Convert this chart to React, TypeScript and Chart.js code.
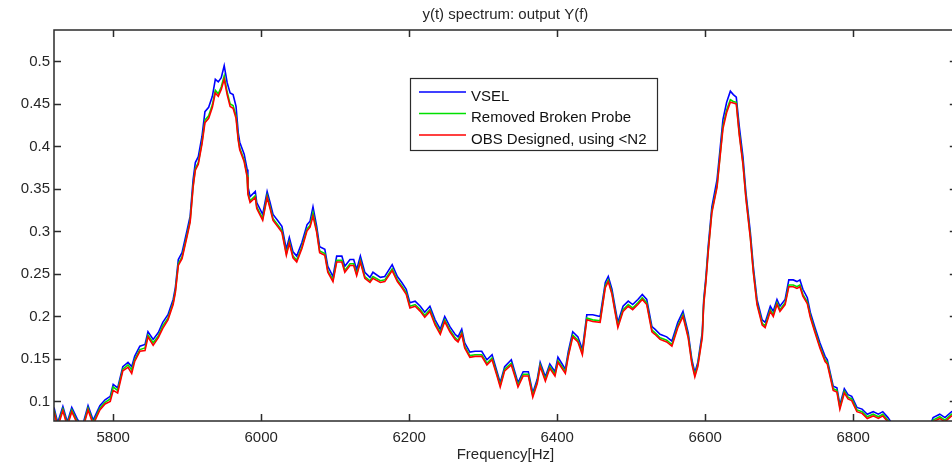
import React, { useEffect, useRef } from "react";
import { Chart, registerables } from "chart.js";

Chart.register(...registerables);

const TITLE = "y(t) spectrum: output Y(f)";
const X_TITLE = "Frequency[Hz]";
const SERIES_NAMES = ["VSEL", "Removed Broken Probe", "OBS Designed, using <N2"];
const SERIES_COLORS = ["#0000ff", "#00e000", "#ff0000"];

const X_MIN = 5720;
const X_MAX = 6940;
const Y_MIN = 0.077;
const Y_MAX = 0.537;
const X_TICKS = [5800, 6000, 6200, 6400, 6600, 6800];
const Y_TICKS = [0.1, 0.15, 0.2, 0.25, 0.3, 0.35, 0.4, 0.45, 0.5];

const FREQ = [
  5720, 5725, 5732, 5738, 5744, 5751, 5758, 5766, 5773, 5782,
  5789, 5796, 5800, 5806, 5813, 5820, 5825, 5829, 5836, 5843,
  5847, 5854, 5861, 5867, 5874, 5881, 5884, 5888, 5893, 5900,
  5904, 5908, 5911, 5915, 5920, 5924, 5929, 5934, 5938, 5942,
  5946, 5950, 5954, 5958, 5962, 5966, 5969, 5971, 5977, 5981,
  5982, 5985, 5992, 5994, 6002, 6008, 6012, 6016, 6023, 6028,
  6034, 6038, 6043, 6048, 6055, 6062, 6066, 6070, 6075, 6079,
  6086, 6090, 6097, 6102, 6109, 6113, 6120, 6125, 6129, 6134,
  6140, 6147, 6151, 6161, 6167, 6177, 6184, 6190, 6196, 6201,
  6208, 6215, 6221, 6228, 6235, 6242, 6248, 6255, 6262, 6266,
  6271, 6275, 6282, 6289, 6298, 6305, 6312, 6319, 6323, 6329,
  6338, 6343, 6347, 6354, 6361, 6367, 6373, 6377, 6384, 6390,
  6397, 6401, 6411, 6415, 6421, 6428, 6434, 6440, 6448, 6458,
  6465, 6469, 6474, 6478, 6482, 6489, 6496, 6502, 6509, 6515,
  6521, 6528, 6532, 6539, 6548, 6555, 6563, 6570, 6577, 6582,
  6586, 6590, 6596, 6598, 6601, 6604, 6609, 6616, 6620, 6624,
  6629, 6634, 6638, 6642, 6646, 6651, 6655, 6661, 6665, 6670,
  6677, 6681, 6688, 6692, 6697, 6701, 6708, 6713, 6719, 6724,
  6728, 6732, 6738, 6742, 6748, 6755, 6762, 6765, 6773, 6778,
  6782, 6788, 6793, 6798, 6805, 6812, 6819, 6827, 6834, 6840,
  6847, 6854, 6904, 6908, 6917, 6924, 6933, 6940,
];

const VSEL = [
  0.093, 0.075, 0.094, 0.076, 0.093, 0.080, 0.070, 0.095, 0.078, 0.095,
  0.102, 0.106, 0.120, 0.116, 0.141, 0.146, 0.141, 0.153, 0.165, 0.167,
  0.182, 0.173, 0.181, 0.193, 0.202, 0.220, 0.234, 0.267, 0.275, 0.302,
  0.318, 0.361, 0.381, 0.388, 0.412, 0.441, 0.446, 0.459, 0.479, 0.476,
  0.481, 0.495, 0.475, 0.463, 0.461, 0.447, 0.416, 0.405, 0.391, 0.373,
  0.353, 0.341, 0.347, 0.334, 0.320, 0.347, 0.334, 0.320, 0.312, 0.306,
  0.279, 0.293, 0.276, 0.271, 0.287, 0.308, 0.312, 0.329, 0.306, 0.282,
  0.279, 0.259, 0.247, 0.271, 0.271, 0.259, 0.267, 0.267, 0.255, 0.271,
  0.252, 0.246, 0.252, 0.246, 0.247, 0.261, 0.247, 0.240, 0.232, 0.216,
  0.218, 0.212, 0.205, 0.212, 0.196, 0.185, 0.200, 0.188, 0.179, 0.176,
  0.185, 0.169, 0.158, 0.159, 0.159, 0.149, 0.155, 0.134, 0.122, 0.141,
  0.149, 0.134, 0.122, 0.135, 0.135, 0.110, 0.126, 0.146, 0.129, 0.144,
  0.135, 0.152, 0.138, 0.159, 0.182, 0.176, 0.161, 0.202, 0.202, 0.200,
  0.240, 0.247, 0.232, 0.212, 0.193, 0.212, 0.218, 0.214, 0.220, 0.226,
  0.220, 0.188, 0.185, 0.179, 0.176, 0.171, 0.193, 0.206, 0.181, 0.149,
  0.134, 0.146, 0.181, 0.220, 0.247, 0.282, 0.329, 0.361, 0.396, 0.432,
  0.452, 0.465, 0.461, 0.458, 0.424, 0.388, 0.346, 0.299, 0.259, 0.220,
  0.196, 0.193, 0.212, 0.206, 0.220, 0.212, 0.220, 0.243, 0.243, 0.241,
  0.243, 0.232, 0.222, 0.205, 0.188, 0.169, 0.153, 0.149, 0.118, 0.116,
  0.096, 0.115, 0.108, 0.106, 0.093, 0.091, 0.085, 0.088, 0.085, 0.088,
  0.081, 0.072, 0.072, 0.081, 0.085, 0.081, 0.088, 0.090,
];

const REMOVED = [
  0.090, 0.072, 0.091, 0.073, 0.090, 0.077, 0.067, 0.092, 0.075, 0.092,
  0.099, 0.103, 0.117, 0.113, 0.138, 0.143, 0.137, 0.149, 0.161, 0.163,
  0.178, 0.169, 0.177, 0.189, 0.198, 0.216, 0.230, 0.262, 0.270, 0.297,
  0.313, 0.354, 0.374, 0.381, 0.405, 0.431, 0.436, 0.449, 0.466, 0.462,
  0.470, 0.483, 0.464, 0.450, 0.448, 0.436, 0.409, 0.398, 0.384, 0.366,
  0.346, 0.336, 0.342, 0.329, 0.315, 0.342, 0.329, 0.315, 0.307, 0.301,
  0.274, 0.288, 0.271, 0.266, 0.282, 0.303, 0.307, 0.322, 0.301, 0.277,
  0.274, 0.254, 0.243, 0.266, 0.266, 0.254, 0.262, 0.262, 0.250, 0.266,
  0.247, 0.242, 0.247, 0.242, 0.243, 0.256, 0.243, 0.236, 0.228, 0.212,
  0.214, 0.208, 0.201, 0.208, 0.192, 0.181, 0.196, 0.184, 0.175, 0.172,
  0.181, 0.165, 0.154, 0.155, 0.155, 0.145, 0.151, 0.131, 0.119, 0.138,
  0.145, 0.131, 0.119, 0.132, 0.132, 0.107, 0.123, 0.143, 0.126, 0.141,
  0.132, 0.148, 0.135, 0.155, 0.178, 0.172, 0.157, 0.198, 0.196, 0.195,
  0.236, 0.243, 0.228, 0.208, 0.189, 0.208, 0.214, 0.210, 0.216, 0.222,
  0.216, 0.184, 0.181, 0.175, 0.172, 0.167, 0.189, 0.202, 0.177, 0.146,
  0.131, 0.143, 0.177, 0.216, 0.243, 0.277, 0.324, 0.354, 0.389, 0.424,
  0.443, 0.455, 0.453, 0.452, 0.416, 0.381, 0.341, 0.294, 0.254, 0.216,
  0.192, 0.189, 0.208, 0.202, 0.216, 0.208, 0.216, 0.237, 0.237, 0.235,
  0.237, 0.226, 0.217, 0.201, 0.184, 0.165, 0.149, 0.146, 0.115, 0.113,
  0.093, 0.112, 0.105, 0.103, 0.090, 0.088, 0.082, 0.085, 0.082, 0.085,
  0.078, 0.069, 0.069, 0.078, 0.082, 0.078, 0.085, 0.087,
];

const OBS = [
  0.088, 0.070, 0.089, 0.071, 0.088, 0.075, 0.065, 0.090, 0.073, 0.090,
  0.097, 0.100, 0.113, 0.110, 0.136, 0.140, 0.133, 0.147, 0.159, 0.160,
  0.176, 0.166, 0.175, 0.186, 0.196, 0.214, 0.228, 0.260, 0.268, 0.295,
  0.311, 0.352, 0.372, 0.379, 0.403, 0.428, 0.433, 0.446, 0.463, 0.459,
  0.467, 0.479, 0.461, 0.447, 0.445, 0.433, 0.407, 0.396, 0.382, 0.364,
  0.344, 0.334, 0.340, 0.327, 0.313, 0.340, 0.327, 0.313, 0.305, 0.299,
  0.272, 0.286, 0.269, 0.264, 0.280, 0.301, 0.305, 0.318, 0.299, 0.275,
  0.272, 0.252, 0.241, 0.264, 0.264, 0.252, 0.260, 0.260, 0.248, 0.264,
  0.245, 0.240, 0.245, 0.240, 0.241, 0.254, 0.241, 0.234, 0.226, 0.210,
  0.212, 0.206, 0.199, 0.206, 0.190, 0.179, 0.194, 0.182, 0.173, 0.170,
  0.179, 0.163, 0.152, 0.153, 0.153, 0.143, 0.149, 0.129, 0.117, 0.136,
  0.143, 0.129, 0.117, 0.130, 0.130, 0.105, 0.121, 0.141, 0.124, 0.139,
  0.130, 0.146, 0.133, 0.153, 0.176, 0.170, 0.155, 0.196, 0.194, 0.193,
  0.234, 0.241, 0.226, 0.206, 0.187, 0.206, 0.212, 0.208, 0.214, 0.220,
  0.214, 0.182, 0.179, 0.173, 0.170, 0.165, 0.187, 0.200, 0.175, 0.144,
  0.129, 0.141, 0.175, 0.214, 0.241, 0.275, 0.322, 0.352, 0.387, 0.421,
  0.440, 0.452, 0.451, 0.450, 0.414, 0.379, 0.339, 0.292, 0.252, 0.214,
  0.190, 0.187, 0.206, 0.200, 0.214, 0.206, 0.214, 0.235, 0.235, 0.233,
  0.235, 0.224, 0.215, 0.199, 0.182, 0.163, 0.147, 0.144, 0.113, 0.111,
  0.091, 0.110, 0.103, 0.101, 0.088, 0.086, 0.080, 0.083, 0.080, 0.083,
  0.076, 0.067, 0.067, 0.076, 0.080, 0.076, 0.083, 0.085,
];

const SERIES = [VSEL, REMOVED, OBS];

const FONT_FAMILY = '"Liberation Sans", Arial, Helvetica, sans-serif';
const AXIS_COLOR = "#2b2b2b";
const TEXT_COLOR = "#262626";

const framePlugin = {
  id: "matlabFrame",
  afterDatasetsDraw(chart: any) {
    const { ctx, chartArea, scales } = chart;
    const { left, top, right, bottom } = chartArea;
    const x = scales.x;
    const y = scales.y;
    const tl = 7;
    ctx.save();
    ctx.strokeStyle = AXIS_COLOR;
    ctx.lineWidth = 1.5;
    ctx.strokeRect(left, top, right - left, bottom - top);
    ctx.beginPath();
    X_TICKS.forEach((v) => {
      const px = Math.round(x.getPixelForValue(v)) + 0.5;
      ctx.moveTo(px, bottom);
      ctx.lineTo(px, bottom - tl);
      ctx.moveTo(px, top);
      ctx.lineTo(px, top + tl);
    });
    Y_TICKS.forEach((v) => {
      const py = Math.round(y.getPixelForValue(v)) + 0.5;
      ctx.moveTo(left, py);
      ctx.lineTo(left + tl, py);
      ctx.moveTo(right, py);
      ctx.lineTo(right - tl, py);
    });
    ctx.stroke();
    ctx.restore();
  },
};

const legendPlugin = {
  id: "insideLegend",
  afterDraw(chart: any) {
    const { ctx, chartArea } = chart;
    const bx = chartArea.left + 356;
    const by = chartArea.top + 48;
    const bw = 247;
    const bh = 72;
    ctx.save();
    ctx.fillStyle = "#ffffff";
    ctx.fillRect(bx, by, bw, bh);
    ctx.strokeStyle = AXIS_COLOR;
    ctx.lineWidth = 1.2;
    ctx.strokeRect(bx + 0.5, by + 0.5, bw, bh);
    ctx.font = `15px ${FONT_FAMILY}`;
    ctx.textBaseline = "alphabetic";
    ctx.textAlign = "left";
    SERIES_NAMES.forEach((name, i) => {
      const lineY = by + 14 + i * 21.5;
      ctx.strokeStyle = SERIES_COLORS[i];
      ctx.lineWidth = 1.5;
      ctx.beginPath();
      ctx.moveTo(bx + 9, lineY);
      ctx.lineTo(bx + 56, lineY);
      ctx.stroke();
      ctx.fillStyle = "#111111";
      ctx.fillText(name, bx + 61, lineY + 8.5);
    });
    ctx.restore();
  },
};

export default function App() {
  const canvasRef = useRef<HTMLCanvasElement | null>(null);

  useEffect(() => {
    const canvas = canvasRef.current;
    if (!canvas) return;
    const datasets = SERIES.map((vals, i) => ({
      label: SERIES_NAMES[i],
      data: FREQ.map((f, j) => ({ x: f, y: vals[j] })),
      borderColor: SERIES_COLORS[i],
      backgroundColor: SERIES_COLORS[i],
      borderWidth: 1.6,
      pointRadius: 0,
      tension: 0,
      fill: false,
      order: SERIES.length - i,
    }));
    const chart = new Chart(canvas, {
      type: "line",
      data: { datasets },
      plugins: [framePlugin, legendPlugin],
      options: {
        animation: false,
        responsive: false,
        maintainAspectRatio: false,
        events: [],
        layout: { padding: { left: 0, right: 43.2, top: 0, bottom: 0 } },
        plugins: {
          legend: { display: false },
          tooltip: { enabled: false },
          title: {
            display: true,
            text: TITLE,
            fullSize: false,
            color: TEXT_COLOR,
            font: { family: FONT_FAMILY, size: 15, weight: "normal", lineHeight: 1.2 },
            padding: { top: 6, bottom: 6 },
          },
        },
        scales: {
          x: {
            type: "linear",
            min: X_MIN,
            max: X_MAX,
            grid: { display: false, drawTicks: false },
            border: { display: false },
            afterBuildTicks: (axis: any) => {
              axis.ticks = X_TICKS.map((value) => ({ value }));
            },
            afterFit: (axis: any) => {
              axis.height = 46;
            },
            ticks: {
              autoSkip: false,
              maxRotation: 0,
              padding: 8,
              color: TEXT_COLOR,
              font: { family: FONT_FAMILY, size: 15 },
              callback: (v: any) => String(v),
            },
            title: {
              display: true,
              text: X_TITLE,
              color: TEXT_COLOR,
              font: { family: FONT_FAMILY, size: 15, lineHeight: 1.2 },
              padding: { top: 0, bottom: 3 },
            },
          },
          y: {
            type: "linear",
            min: Y_MIN,
            max: Y_MAX,
            grid: { display: false, drawTicks: false },
            border: { display: false },
            afterBuildTicks: (axis: any) => {
              axis.ticks = Y_TICKS.map((value) => ({ value }));
            },
            afterFit: (axis: any) => {
              axis.width = 54;
            },
            ticks: {
              autoSkip: false,
              padding: 4,
              color: TEXT_COLOR,
              font: { family: FONT_FAMILY, size: 15 },
              callback: (v: any) => String(v),
            },
          },
        },
      },
    });
    return () => chart.destroy();
  }, []);

  return (
    <div
      style={{
        position: "fixed",
        left: 0,
        top: 0,
        width: 952,
        height: 467,
        overflow: "hidden",
        background: "#ffffff",
      }}
    >
      <canvas
        ref={canvasRef}
        width={1000}
        height={467}
        style={{ display: "block", width: 1000, height: 467 }}
      />
    </div>
  );
}
